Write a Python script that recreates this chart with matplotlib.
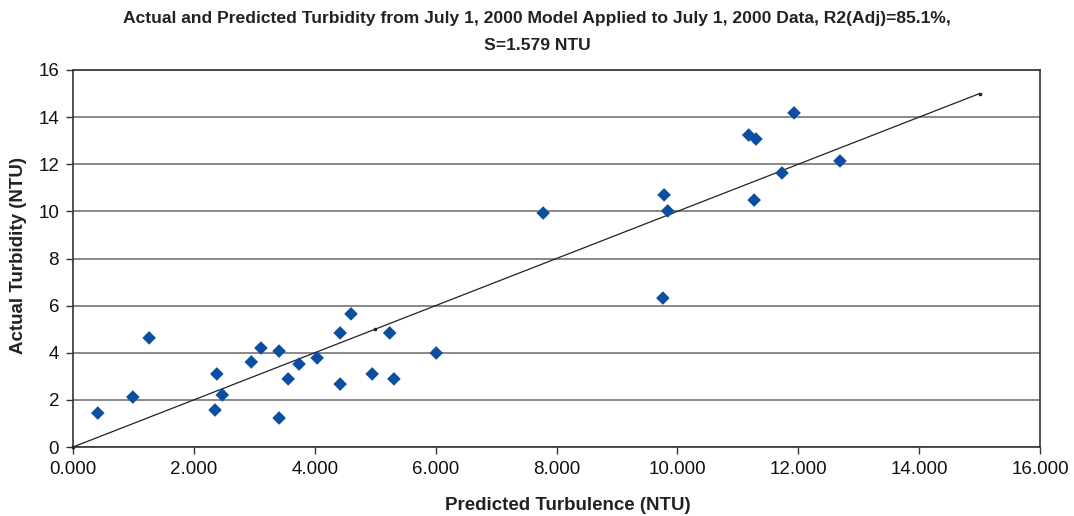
import matplotlib
matplotlib.use("Agg")
import matplotlib.pyplot as plt
from matplotlib.ticker import FuncFormatter

predicted = [0.41, 0.99, 1.26, 2.38, 2.35, 2.47, 2.95, 3.11, 3.41, 3.41,
             3.56, 3.74, 4.04, 4.42, 4.60, 4.42, 4.95, 5.24, 5.31, 6.01,
             7.78, 9.78, 9.84, 9.76, 11.18, 11.30, 11.27, 11.73, 11.93, 12.69]
actual = [1.44, 2.12, 4.63, 3.10, 1.57, 2.21, 3.61, 4.20, 4.07, 1.23,
          2.89, 3.52, 3.78, 4.84, 5.65, 2.67, 3.10, 4.84, 2.89, 3.99,
          9.93, 10.70, 10.02, 6.32, 13.24, 13.07, 10.48, 11.63, 14.18, 12.14]
line_x = [0, 5, 15]
line_y = [0, 5, 15]

title_lines = ["Actual and Predicted Turbidity from July 1, 2000 Model Applied to July 1, 2000 Data, R2(Adj)=85.1%,",
               "S=1.579 NTU"]
xlabel = "Predicted Turbulence (NTU)"
ylabel = "Actual Turbidity (NTU)"

plt.rcParams['font.family'] = ['Liberation Sans', 'DejaVu Sans']

fig = plt.figure(figsize=(10.74, 5.16), dpi=100)
ax = fig.add_axes([73/1074, 69/516, 967/1074, 377/516])

ax.set_xlim(0, 16)
ax.set_ylim(0, 16)
ax.set_xticks(range(0, 17, 2))
ax.set_yticks(range(0, 17, 2))
ax.xaxis.set_major_formatter(FuncFormatter(lambda v, p: f"{v:.3f}"))
ax.grid(axis='y', color='#808080', linewidth=1.3)
ax.set_axisbelow(True)
for s in ax.spines.values():
    s.set_color('#333333')
    s.set_linewidth(1.2)
ax.tick_params(axis='both', direction='out', length=5, width=1, color='#333333',
               labelsize=13.5, labelcolor='#111111', pad=5)

ax.plot(line_x, line_y, color='#222222', linewidth=0.9, marker='s', markersize=2,
        clip_on=False, zorder=3)
ax.scatter(predicted, actual, marker='D', s=48, color='#0B4EA2', edgecolors='none', zorder=4)

ax.set_xlabel(xlabel, fontsize=13.5, fontweight='bold', color='#222222')
ax.set_ylabel(ylabel, fontsize=13.5, fontweight='bold', color='#222222')
ax.xaxis.set_label_coords((568 - 73) / 967, (447 - 506) / 377)
ax.yaxis.set_label_coords((19 - 73) / 967, (447 - 255) / 377)
ax.xaxis.label.set_va('center')
ax.yaxis.label.set_va('center')

fig.text(0.5, 1 - 18/516, title_lines[0], ha='center', va='center',
         fontsize=12.6, fontweight='bold', color='#222222')
fig.text(0.5, 1 - 46/516, title_lines[1], ha='center', va='center',
         fontsize=12.6, fontweight='bold', color='#222222')

fig.savefig("out.png", dpi=100)
